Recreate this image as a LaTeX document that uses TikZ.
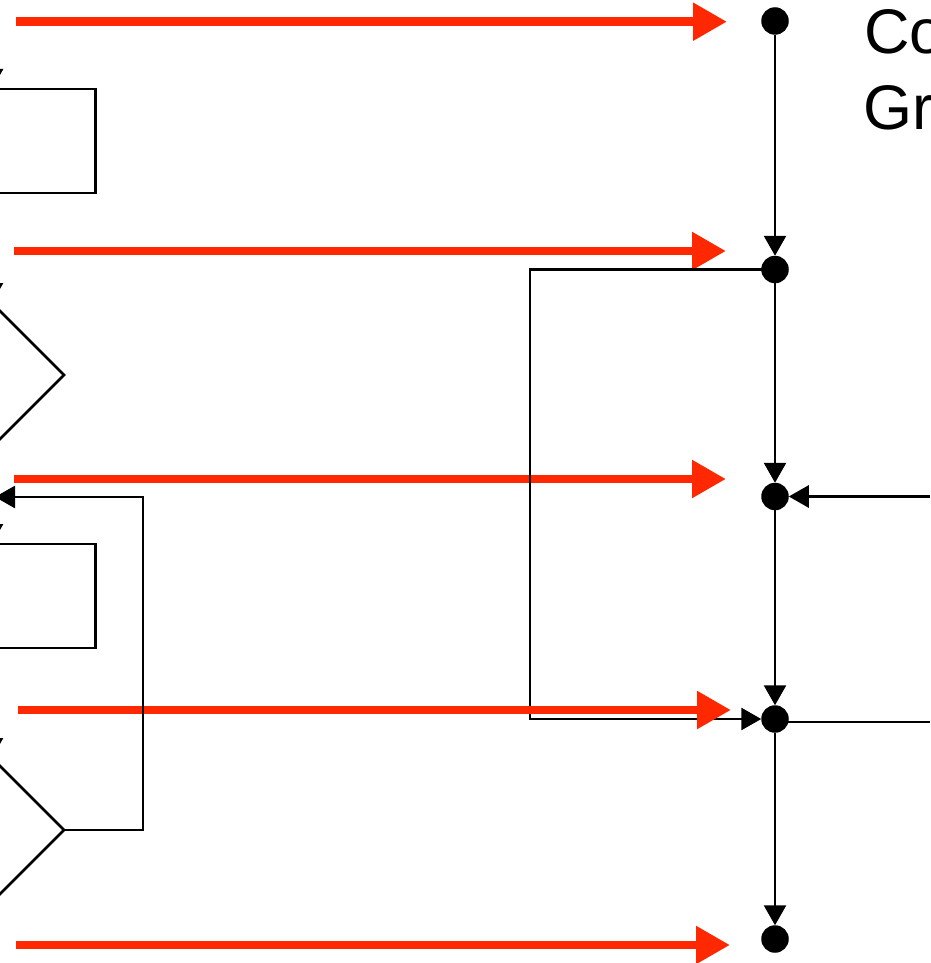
\documentclass[tikz,border=0pt]{standalone}
\usepackage{fontspec}
\setmainfont{Liberation Sans}
\usetikzlibrary{arrows.meta,shapes.geometric}
\definecolor{flowred}{RGB}{255,40,0}
\begin{document}
\begin{tikzpicture}[x=1pt,y=-1pt,
  dot/.style={circle,fill=black,inner sep=0pt,outer sep=0pt,minimum size=27.5pt},
  blk/.style={line width=2.7pt,black},
  blkarrow/.style={blk,-{Triangle[length=20pt,width=22pt]}},
  redarrow/.style={line width=8.4pt,flowred,-{Triangle[length=34pt,width=36pt]}},
  block/.style={draw,line width=2.7pt,rectangle,minimum width=207pt,minimum height=104pt,inner sep=0pt,outer sep=0pt},
  decision/.style={draw,line width=2.7pt,diamond,minimum width=144pt,minimum height=144pt,inner sep=0pt,outer sep=0pt},
  bigtext/.style={font=\fontsize{63}{75}\selectfont,anchor=base west,inner sep=0pt}
]
\useasboundingbox (0,0) rectangle (930,963);
\clip (0,0) rectangle (930,963);

% program points on the right
\node[dot] (d1) at (775,21) {};
\node[dot] (d2) at (775,269.5) {};
\node[dot] (d3) at (775,496.5) {};
\node[dot] (d4) at (775,719) {};
\node[dot] (d5) at (775,939) {};

% flow chart on the left
\node[block] (b1) at (-8,141) {};
\node[decision] (q1) at (-8,375) {};
\node[block] (b2) at (-8,596) {};
\node[decision] (q2) at (-8,830) {};

% correspondence arrows
\coordinate (r1s) at (16,21.7);   \coordinate (r1e) at (727,21.7);
\coordinate (r2s) at (14,251);    \coordinate (r2e) at (726,251);
\coordinate (r3s) at (14,479);    \coordinate (r3e) at (726,479);
\coordinate (r4s) at (18,710);    \coordinate (r4e) at (731,710);
\coordinate (r5s) at (16,945);    \coordinate (r5e) at (730,945);
\draw[redarrow] (r1s) -- (r1e);
\draw[redarrow] (r2s) -- (r2e);
\draw[redarrow] (r3s) -- (r3e);

% edges between program points
\draw[blkarrow] (d1) -- (d2);
\draw[blkarrow] (d2) -- (d3);
\draw[blkarrow] (d3) -- (d4);
\draw[blkarrow] (d4) -- (d5);
\draw[blkarrow] (d2.center) -- (530,269.5) -- (530,719) -- (d4);
\coordinate (inR) at (930,496.5);
\coordinate (outR) at (930,722);
\draw[blkarrow] (inR) -- (d3);
\draw[blk] (outR -| d4) -- (outR);

\draw[redarrow] (r4s) -- (r4e);
\draw[redarrow] (r5s) -- (r5e);

% flow chart edges
\coordinate (entry) at (-8,40);
\coordinate (back) at (-5,497);
\draw[blkarrow] (entry) -- (b1);
\draw[blkarrow] (b1) -- (q1);
\draw[blkarrow] (q1) -- (b2);
\draw[blkarrow] (b2) -- (q2);
\draw[blkarrow] (q2.east) -- (143,830) |- (back);

% heading
\node[bigtext] (t1) at (864,54) {Co};
\node[bigtext] (t2) at (863,129) {Gr};
\end{tikzpicture}
\end{document}
